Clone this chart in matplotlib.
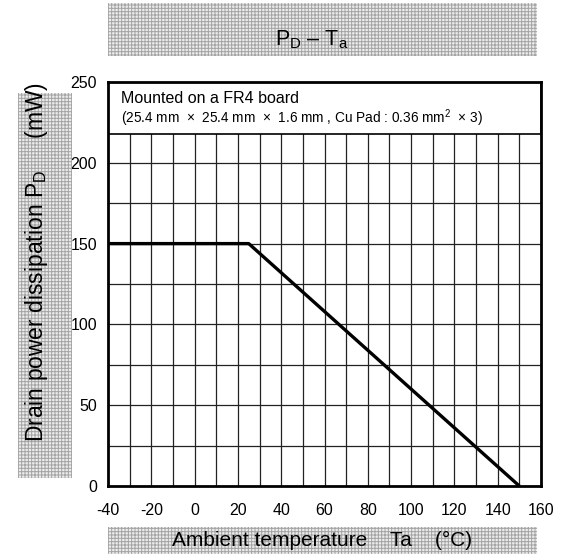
import matplotlib.pyplot as plt
from matplotlib.patches import Rectangle

plt.rcParams['font.family'] = ['Liberation Sans', 'DejaVu Sans']
plt.rcParams['mathtext.fontset'] = 'custom'
plt.rcParams['mathtext.rm'] = 'Liberation Sans'
plt.rcParams['mathtext.it'] = 'Liberation Sans'
plt.rcParams['axes.unicode_minus'] = False
plt.rcParams['hatch.linewidth'] = 0.7

# derating curve
ta = [-40, 25, 150]
pd_mw = [150, 150, 0]

x_ticks = [-40, -20, 0, 20, 40, 60, 80, 100, 120, 140, 160]
y_ticks = [0, 50, 100, 150, 200, 250]
x_grid = list(range(-30, 160, 10))
y_grid = [25, 50, 75, 100, 125, 150, 175, 200, 225]

W, H = 561, 554
fig = plt.figure(figsize=(W / 100, H / 100), dpi=100)
ax = fig.add_axes([108 / W, 1 - 486 / H, 433 / W, 404 / H])


def gray_box(x0, y0, x1, y1):
    # pixel coords from top-left
    fig.patches.append(Rectangle((x0 / W, 1 - y1 / H), (x1 - x0) / W, (y1 - y0) / H,
                                 transform=fig.transFigure, facecolor='#ececec',
                                 edgecolor='#a4a4a4', hatch='+++++', linewidth=0))


gray_box(108, 3, 537, 56)
gray_box(18, 93, 72, 478)
gray_box(108, 527, 537, 554)

fig.text(312 / W, 1 - 40 / H, r'P$_\mathrm{D}$ – T$_\mathrm{a}$', ha='center', va='center', fontsize=15.5)
fig.text(37 / W, 1 - 262 / H, r'Drain power dissipation P$_\mathrm{D}$     (mW)', ha='center', va='center',
         rotation=90, fontsize=16.5)
fig.text(322 / W, 1 - 540 / H, 'Ambient temperature    Ta    (°C)', ha='center', va='center', fontsize=15)

for x in x_grid:
    ax.axvline(x, color='#222222', lw=0.9, zorder=1)
for y in y_grid:
    ax.axhline(y, color='#222222', lw=0.9, zorder=1)

ax.plot(ta, pd_mw, color='black', lw=2.4, zorder=3, solid_capstyle='butt')

ax.add_patch(Rectangle((0, 218 / 250), 1, 32 / 250, transform=ax.transAxes,
                       facecolor='white', edgecolor='black', lw=1.2, zorder=4))
ax.text(0.03, 0.958, 'Mounted on a FR4 board', transform=ax.transAxes, fontsize=11.5,
        va='center', zorder=5)
ax.text(0.03, 0.911, r'(25.4 mm  ×  25.4 mm  ×  1.6 mm , Cu Pad : 0.36 mm$^2$  × 3)',
        transform=ax.transAxes, fontsize=9.8, va='center', zorder=5)

ax.set_xlim(-40, 160)
ax.set_ylim(0, 250)
ax.set_xticks(x_ticks)
ax.set_yticks(y_ticks)
ax.tick_params(axis='x', length=0, labelsize=11.5, pad=12)
ax.tick_params(axis='y', length=0, labelsize=11.5, pad=8)
for s in ax.spines.values():
    s.set_linewidth(2)
    s.set_zorder(6)

plt.savefig('out.png', dpi=100)
